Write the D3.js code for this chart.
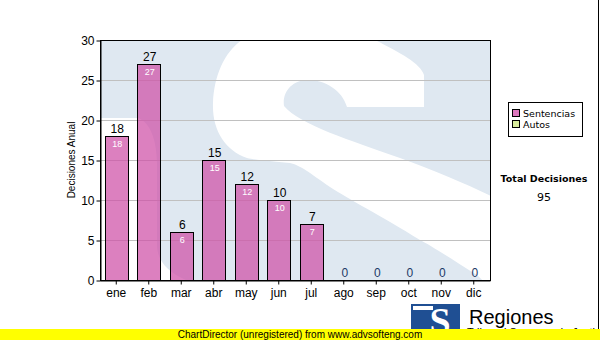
<!DOCTYPE html>
<html>
<head>
<meta charset="utf-8">
<script src="https://cdn.jsdelivr.net/npm/d3@7"></script>
<style>
  body { margin: 0; background: #fff; }
  svg { display: block; font-family: Arial, "Liberation Sans", sans-serif; }
</style>
</head>
<body>
<div id="chart"></div>
<script>
// Chart data
const months = ['ene', 'feb', 'mar', 'abr', 'may', 'jun', 'jul', 'ago', 'sep', 'oct', 'nov', 'dic'];
const sentencias = [18, 27, 6, 15, 12, 10, 7, 0, 0, 0, 0, 0];
const yTicks = [0, 5, 10, 15, 20, 25, 30];
const legendItems = ['Sentencias', 'Autos'];
const legendColors = ['#dd77bd', '#d8ec9c'];
const totalDecisiones = 95;

const width = 600, height = 340;
const plot = { left: 100, right: 490, top: 40, bottom: 280 };

const svg = d3.select('#chart').append('svg')
  .attr('width', width)
  .attr('height', height);

const x = d3.scaleBand()
  .domain(months)
  .range([plot.left, plot.right])
  .paddingInner(0.3)
  .paddingOuter(0.15);

const y = d3.scaleLinear()
  .domain([0, 30])
  .range([plot.bottom, plot.top]);

// plot background + big "S" watermark (just decoration)
svg.append('clipPath').attr('id', 'plotClip')
  .append('rect')
  .attr('x', plot.left).attr('y', plot.top)
  .attr('width', plot.right - plot.left)
  .attr('height', plot.bottom - plot.top);

const bg = svg.append('g').attr('clip-path', 'url(#plotClip)');
bg.append('rect')
  .attr('x', plot.left).attr('y', plot.top)
  .attr('width', plot.right - plot.left)
  .attr('height', plot.bottom - plot.top)
  .attr('fill', '#dfe8f1');
bg.append('path')
  .attr('fill', '#fff')
  .attr('d', 'M255,25 C300,15 345,20 365,35 C395,50 420,62 424,75 L424,107 L347,107 ' +
    'C342,90 325,80 308,80 C292,80 282,92 284,106 C300,125 350,140 400,158 ' +
    'C450,176 490,195 520,210 L520,300 L500,300 C490,290 485,282 477,275 ' +
    'C450,258 430,245 420,240 C380,215 350,200 330,187 C310,173 300,165 290,163 ' +
    'C270,161 255,160 247,158 C225,150 212,130 213,103 C214,75 225,50 245,38 ' +
    'C250,33 252,28 255,25 Z ' +
    'M95,118 L138,118 C150,122 157,140 157,165 L157,245 C157,265 175,278 200,285 L230,300 L95,300 Z');

// gridlines
svg.append('g')
  .selectAll('line')
  .data(yTicks.filter(d => d > 0 && d < 30))
  .join('line')
  .attr('x1', plot.left).attr('x2', plot.right)
  .attr('y1', d => y(d) + 0.5).attr('y2', d => y(d) + 0.5)
  .attr('stroke', '#c0c0c0')
  .attr('stroke-width', 1);

// bars
svg.append('g')
  .selectAll('rect')
  .data(sentencias)
  .join('rect')
  .filter(d => d > 0)
  .attr('x', (d, i) => Math.round(x(months[i])) + 0.5)
  .attr('y', d => y(d) + 0.5)
  .attr('width', Math.round(x.bandwidth()))
  .attr('height', d => y(0) - y(d))
  .attr('fill', '#cf4fa6')
  .attr('fill-opacity', 0.72)
  .attr('stroke', '#000')
  .attr('stroke-width', 1);

// value labels above bars
svg.append('g')
  .selectAll('text')
  .data(sentencias)
  .join('text')
  .attr('x', (d, i) => x(months[i]) + x.bandwidth() / 2 + 1)
  .attr('y', d => y(d) - 3)
  .attr('text-anchor', 'middle')
  .attr('font-size', 12)
  .attr('fill', d => d > 0 ? '#000' : '#1c3a66')
  .text(d => d);

// value labels inside bars
svg.append('g')
  .selectAll('text')
  .data(sentencias)
  .join('text')
  .filter(d => d > 0)
  .attr('x', (d, i) => x(months[i]) + x.bandwidth() / 2 + 1)
  .attr('y', d => y(d) + 11)
  .attr('text-anchor', 'middle')
  .attr('font-size', 9)
  .attr('fill', '#fff')
  .text(d => d);

// plot frame
svg.append('rect')
  .attr('x', plot.left + 0.5).attr('y', plot.top + 0.5)
  .attr('width', plot.right - plot.left)
  .attr('height', plot.bottom - plot.top)
  .attr('fill', 'none')
  .attr('stroke', '#000');

// axes
const yAxis = svg.append('g')
  .attr('transform', `translate(${plot.left + 0.5},0.5)`)
  .call(d3.axisLeft(y).tickValues(yTicks).tickSize(4).tickSizeOuter(0));
const xAxis = svg.append('g')
  .attr('transform', `translate(0,${plot.bottom + 0.5})`)
  .call(d3.axisBottom(x).tickSize(4).tickSizeOuter(0));

[yAxis, xAxis].forEach(a => {
  a.select('.domain').attr('stroke', '#000');
  a.selectAll('.tick line').attr('stroke', '#000');
  a.selectAll('.tick text')
    .attr('font-size', 12)
    .attr('font-family', 'Arial, "Liberation Sans", sans-serif')
    .attr('fill', '#000');
});
yAxis.selectAll('.tick text').attr('x', -6);
xAxis.selectAll('.tick text').attr('y', 8);

// y axis title
svg.append('text')
  .attr('transform', `translate(75,${(plot.top + plot.bottom) / 2}) rotate(-90)`)
  .attr('text-anchor', 'middle')
  .attr('font-size', 10)
  .text('Decisiones Anual');

// legend
const legend = svg.append('g');
legend.append('rect')
  .attr('x', 508.5).attr('y', 102.5)
  .attr('width', 74).attr('height', 34)
  .attr('fill', '#fff')
  .attr('stroke', '#000');
legend.selectAll('g')
  .data(legendItems)
  .join('g')
  .attr('transform', (d, i) => `translate(512,${109 + i * 11})`)
  .each(function(d, i) {
    const g = d3.select(this);
    g.append('rect')
      .attr('x', 0.5).attr('y', 0.5)
      .attr('width', 7).attr('height', 7)
      .attr('fill', legendColors[i])
      .attr('stroke', '#000');
    g.append('text')
      .attr('x', 11).attr('y', 8)
      .attr('font-family', 'Verdana, "DejaVu Sans", sans-serif')
      .attr('font-size', 9.5)
      .text(d);
  });

// total
svg.append('text')
  .attr('x', 544).attr('y', 182)
  .attr('text-anchor', 'middle')
  .attr('font-family', 'Verdana, "DejaVu Sans", sans-serif')
  .attr('font-size', 9.5)
  .attr('font-weight', 'bold')
  .text('Total Decisiones');
svg.append('text')
  .attr('x', 544).attr('y', 201)
  .attr('text-anchor', 'middle')
  .attr('font-family', 'Verdana, "DejaVu Sans", sans-serif')
  .attr('font-size', 11)
  .text(totalDecisiones);

// right edge line
svg.append('line')
  .attr('x1', 598.5).attr('x2', 598.5)
  .attr('y1', 0).attr('y2', 330)
  .attr('stroke', '#000');

// logo
svg.append('rect')
  .attr('x', 411).attr('y', 304)
  .attr('width', 49).attr('height', 26)
  .attr('fill', '#1f4f93');
svg.append('rect')
  .attr('x', 413).attr('y', 306)
  .attr('width', 20).attr('height', 4)
  .attr('fill', '#fff');
svg.append('text')
  .attr('x', 440).attr('y', 334)
  .attr('text-anchor', 'middle')
  .attr('font-family', '"Liberation Serif", serif')
  .attr('font-weight', 'bold')
  .attr('font-size', 38)
  .attr('fill', '#fff')
  .text('S');
svg.append('text')
  .attr('x', 469).attr('y', 324)
  .attr('font-size', 20)
  .text('Regiones');
svg.append('text')
  .attr('x', 467).attr('y', 336)
  .attr('font-size', 11)
  .text('Tribunal Supremo de Justicia');

// unregistered footer
svg.append('rect')
  .attr('x', 0).attr('y', 329)
  .attr('width', width).attr('height', 11)
  .attr('fill', '#ffff00');
svg.append('text')
  .attr('x', 300).attr('y', 338)
  .attr('text-anchor', 'middle')
  .attr('font-size', 10)
  .text('ChartDirector (unregistered) from www.advsofteng.com');
</script>
</body>
</html>
